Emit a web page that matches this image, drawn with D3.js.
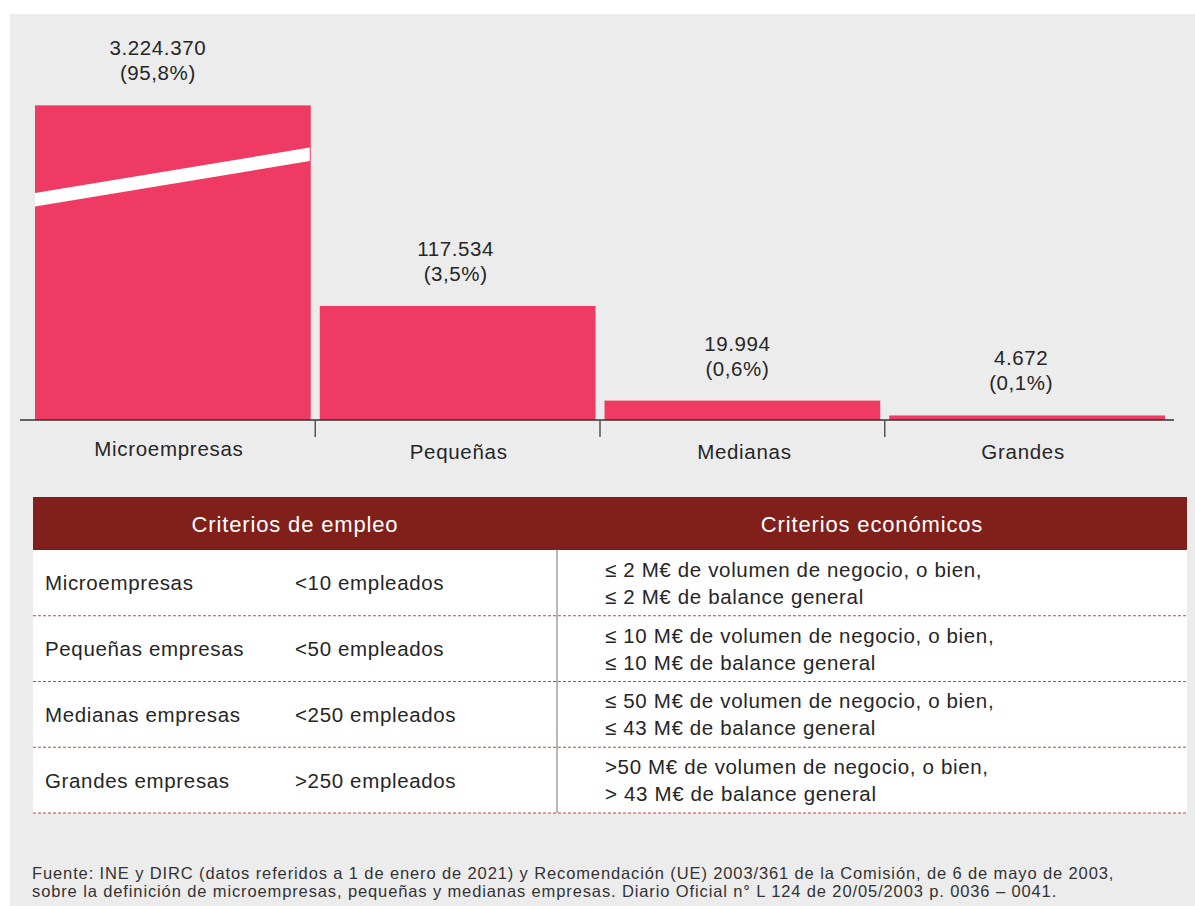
<!DOCTYPE html>
<html>
<head>
<meta charset="utf-8">
<script src="https://cdn.jsdelivr.net/npm/d3@7"></script>
<style>
  html, body { margin: 0; padding: 0; background: #ffffff; }
  svg { display: block; }
  text { font-family: "Liberation Sans", Arial, Helvetica, sans-serif; }
</style>
</head>
<body>
<svg id="chart" width="1195" height="906"></svg>
<script>
// ---- Data ----
const categories = ["Microempresas", "Pequeñas", "Medianas", "Grandes"];
const companies = [3224370, 117534, 19994, 4672];
const valueLabels = ["3.224.370", "117.534", "19.994", "4.672"];
const shareLabels = ["(95,8%)", "(3,5%)", "(0,6%)", "(0,1%)"];

const tableHeaders = ["Criterios de empleo", "Criterios económicos"];
const sizeNames = ["Microempresas", "Pequeñas empresas", "Medianas empresas", "Grandes empresas"];
const employmentCriteria = ["<10 empleados", "<50 empleados", "<250 empleados", ">250 empleados"];
const turnoverCriteria = [
  "≤ 2 M€ de volumen de negocio, o bien,",
  "≤ 10 M€ de volumen de negocio, o bien,",
  "≤ 50 M€ de volumen de negocio, o bien,",
  ">50 M€ de volumen de negocio, o bien,"
];
const balanceCriteria = [
  "≤ 2 M€ de balance general",
  "≤ 10 M€ de balance general",
  "≤ 43 M€ de balance general",
  "> 43 M€ de balance general"
];
const sourceLines = [
  "Fuente: INE y DIRC (datos referidos a 1 de enero de 2021) y Recomendación (UE) 2003/361 de la Comisión, de 6 de mayo de 2003,",
  "sobre la definición de microempresas, pequeñas y medianas empresas. Diario Oficial n° L 124 de 20/05/2003 p. 0036 – 0041."
];

// ---- Layout ----
const W = 1195, H = 906;
const svg = d3.select("#chart");
const barColor = "#ef3a63";
const textColor = "#262626";
// small horizontal nudges of the labels (layout only)
const valueLabelDx = [-15, -2, -5, -6];
const catLabelDx = [-4, 1, 2, -4];

svg.append("rect").attr("x", 10).attr("y", 14).attr("width", W - 10).attr("height", H - 14).attr("fill", "#ececec");

const baseY = 420;
const x = d3.scaleBand().domain(categories).range([30.5, 1169.5])
  .paddingInner(9 / 284.75).paddingOuter(4.5 / 284.75);

// broken linear scale: same slope below and above the break
const k = 0.00097;
const breakLo = 250000, breakHi = 3150000;
const yBreak = baseY - breakLo * k;
const y = d3.scaleLinear()
  .domain([0, breakLo, breakHi, d3.max(companies)])
  .range([baseY, yBreak, yBreak, yBreak - (d3.max(companies) - breakHi) * k]);

const data = categories.map((c, i) => ({ c, i, v: companies[i], lab: valueLabels[i], pct: shareLabels[i] }));

const g = svg.append("g");
g.selectAll("rect.bar").data(data).enter().append("rect")
  .attr("class", "bar")
  .attr("x", d => x(d.c))
  .attr("y", d => y(d.v))
  .attr("width", x.bandwidth())
  .attr("height", d => baseY - y(d.v))
  .attr("fill", barColor);

// break marker on the first (broken) bar
const b0 = data[0];
const bx0 = x(b0.c), bx1 = x(b0.c) + x.bandwidth() - 1;
const midY = yBreak - 0.5;
const slopeHalf = 22.7, thick = 6.7;
const breakPoly = [
  [bx0, midY + slopeHalf - thick], [bx1, midY - slopeHalf - thick],
  [bx1, midY - slopeHalf + thick], [bx0, midY + slopeHalf + thick]
];
g.append("polygon").attr("points", breakPoly.map(p => p.join(",")).join(" ")).attr("fill", "#ffffff");

// value labels
const lab = g.selectAll("text.val").data(data).enter().append("text")
  .attr("class", "val")
  .attr("text-anchor", "middle")
  .attr("font-size", 20.5)
  .attr("letter-spacing", 0.6)
  .attr("fill", textColor);
lab.append("tspan").attr("x", d => x(d.c) + x.bandwidth() / 2 + valueLabelDx[d.i]).attr("y", d => y(d.v) - 50).text(d => d.lab);
lab.append("tspan").attr("x", d => x(d.c) + x.bandwidth() / 2 + valueLabelDx[d.i]).attr("y", d => y(d.v) - 25).text(d => d.pct);

// axis
const step = x.step();
g.append("line").attr("x1", 20).attr("x2", 1174).attr("y1", baseY).attr("y2", baseY)
  .attr("stroke", "#333").attr("stroke-width", 1.5);
g.selectAll("line.tick").data(categories.slice(1)).enter().append("line")
  .attr("class", "tick")
  .attr("x1", d => x(d) - (step - x.bandwidth()) / 2)
  .attr("x2", d => x(d) - (step - x.bandwidth()) / 2)
  .attr("y1", baseY).attr("y2", baseY + 17)
  .attr("stroke", "#555").attr("stroke-width", 1.5);
g.selectAll("text.cat").data(categories).enter().append("text")
  .attr("class", "cat")
  .attr("x", (d, i) => x(d) + x.bandwidth() / 2 + catLabelDx[i])
  .attr("y", (d, i) => i === 0 ? 456 : 459)
  .attr("text-anchor", "middle")
  .attr("font-size", 20.5)
  .attr("letter-spacing", 0.7)
  .attr("fill", textColor)
  .text(d => d);

// ---- Table ----
const tX0 = 33, tX1 = 1187, divX = 557;
const headTop = 497, headBot = 550, tableBot = 813;
const row = d3.scaleBand().domain(sizeNames).range([headBot, tableBot]);

svg.append("rect").attr("x", tX0).attr("y", headTop).attr("width", tX1 - tX0).attr("height", headBot - headTop).attr("fill", "#811f1b");
svg.selectAll("text.head").data(tableHeaders).enter().append("text")
  .attr("x", (d, i) => i === 0 ? (tX0 + divX) / 2 : (divX + tX1) / 2)
  .attr("y", (headTop + headBot) / 2 + 8)
  .attr("text-anchor", "middle")
  .attr("font-size", 22)
  .attr("letter-spacing", 0.85)
  .attr("fill", "#ffffff")
  .text(d => d);

svg.append("rect").attr("x", tX0).attr("y", headBot).attr("width", tX1 - tX0).attr("height", tableBot - headBot).attr("fill", "#ffffff");
svg.append("line").attr("x1", divX).attr("x2", divX).attr("y1", headBot).attr("y2", tableBot)
  .attr("stroke", "#a0a0a0").attr("stroke-width", 1.5);
svg.selectAll("line.sep").data(sizeNames).enter().append("line")
  .attr("x1", tX0).attr("x2", tX1)
  .attr("y1", d => row(d) + row.bandwidth()).attr("y2", d => row(d) + row.bandwidth())
  .attr("stroke", "#c8423f").attr("stroke-width", 1.2).attr("stroke-dasharray", "3,2");

const cellText = sel => sel.attr("font-size", 20.5).attr("letter-spacing", 0.65).attr("fill", textColor);
const rowsG = svg.selectAll("g.row").data(sizeNames).enter().append("g")
  .attr("transform", d => `translate(0,${row(d) + row.bandwidth() / 2})`);
rowsG.append("text").attr("x", 45).attr("y", 7.5).call(cellText).text(d => d);
rowsG.append("text").attr("x", 295).attr("y", 7.5).call(cellText).text((d, i) => employmentCriteria[i]);
rowsG.append("text").attr("x", 605).attr("y", -6).call(cellText).text((d, i) => turnoverCriteria[i]);
rowsG.append("text").attr("x", 605).attr("y", 21).call(cellText).text((d, i) => balanceCriteria[i]);

// ---- Source ----
svg.selectAll("text.src").data(sourceLines).enter().append("text")
  .attr("x", 32).attr("y", (d, i) => 879 + i * 18)
  .attr("font-size", 16.5).attr("letter-spacing", 0.88).attr("fill", "#333")
  .text(d => d);
</script>
</body>
</html>
